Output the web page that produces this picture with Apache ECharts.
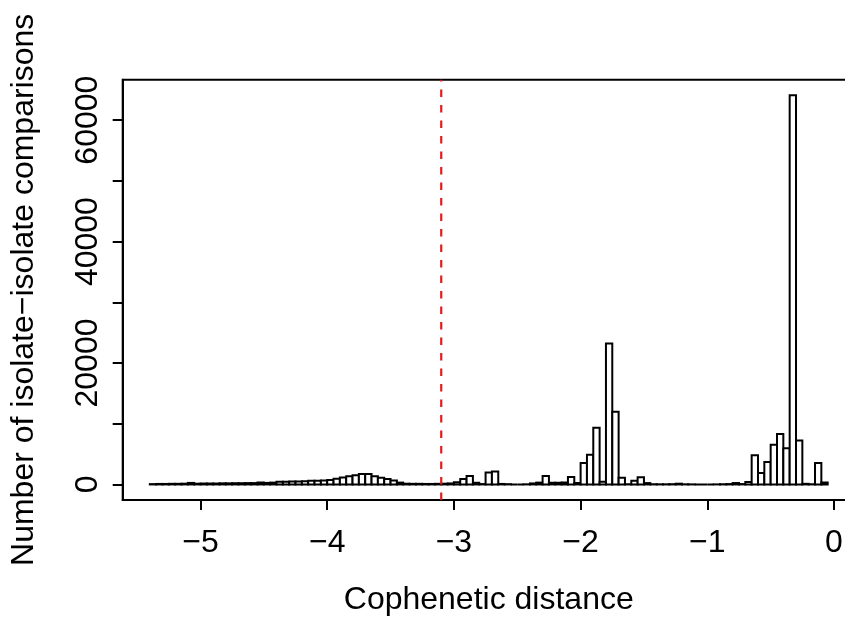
<!DOCTYPE html>
<html>
<head>
<meta charset="utf-8">
<script src="https://cdn.jsdelivr.net/npm/echarts@6/dist/echarts.min.js"></script>
<style>
html,body{margin:0;padding:0;background:#fff;overflow:hidden;}
#chart{width:845px;height:617px;}
</style>
</head>
<body>
<div id="chart"></div>
<script>
// Histogram bins (lower edges) and bin width
const binLower = [
  -5.40,-5.35,-5.30,-5.25,-5.20,-5.15,-5.10,-5.05,-5.00,-4.95,
  -4.90,-4.85,-4.80,-4.75,-4.70,-4.65,-4.60,-4.55,-4.50,-4.45,
  -4.40,-4.35,-4.30,-4.25,-4.20,-4.15,-4.10,-4.05,-4.00,-3.95,
  -3.90,-3.85,-3.80,-3.75,-3.70,-3.65,-3.60,-3.55,-3.50,-3.45,
  -3.40,-3.35,-3.30,-3.25,-3.20,-3.15,-3.10,-3.05,-3.00,-2.95,
  -2.90,-2.85,-2.80,-2.75,-2.70,-2.65,-2.60,-2.55,-2.50,-2.45,
  -2.40,-2.35,-2.30,-2.25,-2.20,-2.15,-2.10,-2.05,-2.00,-1.95,
  -1.90,-1.85,-1.80,-1.75,-1.70,-1.65,-1.60,-1.55,-1.50,-1.45,
  -1.40,-1.35,-1.30,-1.25,-1.20,-1.15,-1.10,-1.05,-1.00,-0.95,
  -0.90,-0.85,-0.80,-0.75,-0.70,-0.65,-0.60,-0.55,-0.50,-0.45,
  -0.40,-0.35,-0.30,-0.25,-0.20,-0.15,-0.10
];
const binWidth = 0.05;
// Number of isolate-isolate comparisons per bin
const counts = [
  50, 80, 80, 100, 100, 120, 250, 120, 150, 150,
  150, 180, 180, 200, 200, 220, 220, 320, 250, 300,
  450, 450, 480, 500, 520, 600, 620, 650, 750, 950,
  1150, 1350, 1500, 1700, 1720, 1350, 1100, 900, 650, 300,
  120, 100, 100, 80, 80, 100, 120, 165, 360, 880,
  1400, 275, 60, 1950, 2140, 80, 40, 0, 0, 20,
  165, 300, 1400, 275, 275, 330, 1230, 240, 3510, 4880,
  9330, 440, 23200, 11960, 1120, 30, 600, 1180, 220, 30,
  20, 20, 40, 120, 20, 10, 0, 0, 0, 10,
  30, 60, 230, 60, 420, 4800, 1900, 3680, 6530, 8300,
  5950, 64100, 7250, 100, 30, 3510, 330
];
const xTicks = [-5, -4, -3, -2, -1, 0];
const yTicks = [0, 10000, 20000, 30000, 40000, 50000, 60000];
const yTickLabels = [0, 20000, 40000, 60000];
const cutoff = -3.1;
const xRange = [-5.614, 0.164];
const yRange = [-2564, 66664];

const histData = binLower.map((lo, i) => [lo, lo + binWidth, counts[i]]);

const FONT = '"Liberation Sans", Helvetica, Arial, sans-serif';
const FS = 32;
const LW = 2;
const chart = echarts.init(document.getElementById('chart'), null, {renderer: 'canvas'});
chart.setOption({
  animation: false,
  backgroundColor: '#ffffff',
  grid: {
    left: 122.7, top: 79.7, width: 732.1, height: 420.3,
    containLabel: false, outerBoundsMode: 'none',
    show: true, borderColor: '#000', borderWidth: LW, backgroundColor: 'transparent'
  },
  xAxis: {
    type: 'value', min: xRange[0], max: xRange[1],
    name: 'Cophenetic distance', nameLocation: 'middle', nameGap: 84,
    nameTextStyle: {fontFamily: FONT, fontSize: FS, color: '#000'},
    axisLine: {show: true, onZero: false, lineStyle: {color: '#000', width: LW}},
    axisTick: {show: true, inside: false, length: 10, customValues: xTicks, lineStyle: {color: '#000', width: LW}},
    axisLabel: {show: true, margin: 27, customValues: xTicks, fontFamily: FONT, fontSize: FS, color: '#000',
      formatter: v => String(v).replace('-', '\u2212')},
    splitLine: {show: false}
  },
  yAxis: {
    type: 'value', min: yRange[0], max: yRange[1],
    name: 'Number of isolate\u2212isolate comparisons', nameLocation: 'middle', nameGap: 83, nameRotate: 90,
    nameTextStyle: {fontFamily: FONT, fontSize: FS, color: '#000'},
    axisLine: {show: true, onZero: false, lineStyle: {color: '#000', width: LW}},
    axisTick: {show: true, inside: false, length: 10, customValues: yTicks, lineStyle: {color: '#000', width: LW}},
    axisLabel: {show: true, margin: 19, rotate: 90, customValues: yTickLabels, fontFamily: FONT, fontSize: FS, color: '#000',
      formatter: v => String(v)},
    splitLine: {show: false}
  },
  series: [
    {
      type: 'custom',
      data: histData,
      renderItem: function (params, api) {
        const p0 = api.coord([api.value(0), api.value(2)]);
        const p1 = api.coord([api.value(1), 0]);
        return {
          type: 'rect',
          shape: {x: p0[0], y: p0[1], width: p1[0] - p0[0], height: p1[1] - p0[1]},
          style: {fill: '#ffffff', stroke: '#000', lineWidth: LW}
        };
      },
      encode: {x: [0, 1], y: 2}
    },
    {
      type: 'line',
      data: [[cutoff, yRange[0]], [cutoff, yRange[1]]],
      symbol: 'none',
      lineStyle: {color: '#e41a1c', width: 2.2, type: [7.5, 8], dashOffset: 0},
      z: 5
    }
  ]
});
</script>
</body>
</html>
